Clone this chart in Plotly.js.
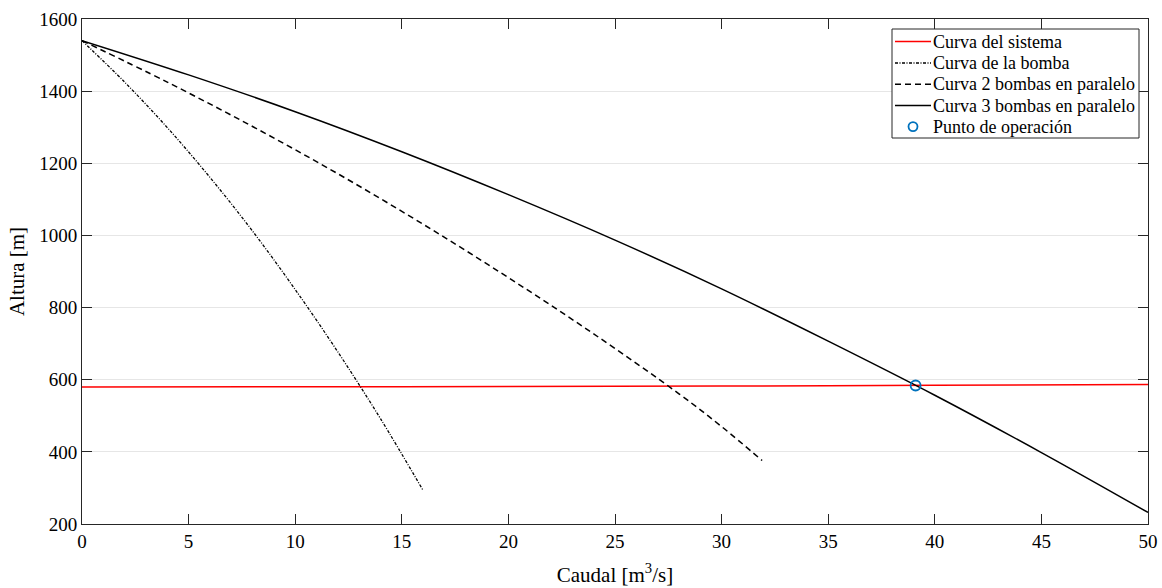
<!DOCTYPE html>
<html>
<head>
<meta charset="utf-8">
<script src="https://cdn.plot.ly/plotly-3.0.1.min.js"></script>
<style>html,body{margin:0;padding:0;background:#fff;}#chart{width:1162px;height:588px;}</style>
</head>
<body>
<div id="chart"></div>
<script>
// Curva del sistema
const qSistema = [0, 10, 20, 30, 40, 50];
const hSistema = [580, 580.3, 581, 582.5, 584.5, 587];

// Curva de la bomba (una bomba)
const qBomba1 = [0, 2, 4, 6, 8, 10, 12, 14, 16];
const hBomba1 = [1540, 1425, 1299, 1161, 1012, 850, 677, 492, 293];

// Curva 2 bombas en paralelo
const qBomba2 = [0, 4, 8, 12, 16, 20, 24, 28, 30, 31.9];
const hBomba2 = [1540, 1425, 1302, 1171, 1031, 883, 727, 561, 470, 376];

// Curva 3 bombas en paralelo
const qBomba3 = [0, 5, 10, 15, 20, 25, 30, 35, 40, 45, 50];
const hBomba3 = [1540, 1445, 1343, 1232, 1113, 987, 852, 707, 557, 398, 232];

// Punto de operación
const qOperacion = [39.1];
const hOperacion = [584];

const xTicks = [0, 5, 10, 15, 20, 25, 30, 35, 40, 45, 50];
const yTicks = [200, 400, 600, 800, 1000, 1200, 1400, 1600];

const legendNames = ['Curva del sistema', 'Curva de la bomba', 'Curva 2 bombas en paralelo',
                     'Curva 3 bombas en paralelo', 'Punto de operación'];

const serif = 'Liberation Serif, Times New Roman, serif';
const axisColor = '#262626';
const styles = [
  {color: '#ff0000', width: 1.5, dash: 'solid'},
  {color: '#000000', width: 1.3, dash: '3px,1.5px,1px,1.5px'},
  {color: '#000000', width: 1.5, dash: '6px,4px'},
  {color: '#000000', width: 1.5, dash: 'solid'}
];
const markerColor = '#0072BD';

const traces = [
  {x: qSistema, y: hSistema, mode: 'lines', name: legendNames[0],
   line: Object.assign({shape: 'spline'}, styles[0])},
  {x: qBomba1, y: hBomba1, mode: 'lines', name: legendNames[1],
   line: Object.assign({shape: 'spline'}, styles[1])},
  {x: qBomba2, y: hBomba2, mode: 'lines', name: legendNames[2],
   line: Object.assign({shape: 'spline'}, styles[2])},
  {x: qBomba3, y: hBomba3, mode: 'lines', name: legendNames[3],
   line: Object.assign({shape: 'spline'}, styles[3])},
  {x: qOperacion, y: hOperacion, mode: 'markers', name: legendNames[4],
   marker: {symbol: 'circle-open', size: 10, color: markerColor, line: {width: 1.8, color: markerColor}}}
];

// Manual legend (compact, MATLAB-like)
const W = 1066, H = 505, L = 82, T = 19;
const px = v => (v - L) / W;
const py = v => (T + H - v) / H;
const boxL = 892, boxR = 1139, boxT = 29, boxB = 138;
const rowY = [41.5, 63, 84.3, 105.6, 126.6];
const shapes = [{type: 'rect', xref: 'paper', yref: 'paper',
  x0: px(boxL), x1: px(boxR), y0: py(boxB), y1: py(boxT),
  line: {color: axisColor, width: 1}, fillcolor: '#ffffff', layer: 'above'}];
const annotations = [];
for (let i = 0; i < 5; i++) {
  if (i < 4) {
    shapes.push({type: 'line', xref: 'paper', yref: 'paper',
      x0: px(895), x1: px(931), y0: py(rowY[i]), y1: py(rowY[i]),
      line: {color: styles[i].color, width: styles[i].width, dash: styles[i].dash}, layer: 'above'});
  } else {
    shapes.push({type: 'circle', xref: 'paper', yref: 'paper', xsizemode: 'pixel', ysizemode: 'pixel',
      xanchor: px(913), yanchor: py(rowY[i]), x0: -4.5, x1: 4.5, y0: -4.5, y1: 4.5,
      line: {color: markerColor, width: 1.8}, layer: 'above'});
  }
  annotations.push({xref: 'paper', yref: 'paper', x: px(931), y: py(rowY[i]),
    xanchor: 'left', yanchor: 'middle', showarrow: false, text: legendNames[i],
    font: {family: serif, size: 18, color: '#000000'}});
}

const layout = {
  width: 1162, height: 588,
  margin: {l: 82, r: 14, t: 19, b: 64},
  paper_bgcolor: '#ffffff', plot_bgcolor: '#ffffff',
  font: {family: serif, size: 18, color: '#000000'},
  showlegend: false,
  shapes: shapes,
  annotations: annotations,
  xaxis: {
    range: [0, 50], tickvals: xTicks, ticktext: xTicks.map(String),
    ticks: 'inside', ticklen: 10, tickwidth: 1, tickcolor: axisColor,
    showline: true, linecolor: axisColor, linewidth: 1, mirror: 'ticks',
    showgrid: false, zeroline: false,
    tickfont: {family: serif, size: 19, color: '#000000'},
    title: {text: 'Caudal [m<sup>3</sup>/s]', font: {family: serif, size: 21, color: '#000000'}, standoff: 16}
  },
  yaxis: {
    range: [200, 1600], tickvals: yTicks, ticktext: yTicks.map(String),
    ticks: 'inside', ticklen: 10, tickwidth: 1, tickcolor: axisColor,
    showline: true, linecolor: axisColor, linewidth: 1, mirror: 'ticks',
    showgrid: true, gridcolor: '#e6e6e6', gridwidth: 1, zeroline: false,
    tickfont: {family: serif, size: 19, color: '#000000'},
    title: {text: 'Altura [m]', font: {family: serif, size: 21, color: '#000000'}, standoff: 8}
  }
};

Plotly.newPlot('chart', traces, layout, {displayModeBar: false, staticPlot: true});
</script>
</body>
</html>
